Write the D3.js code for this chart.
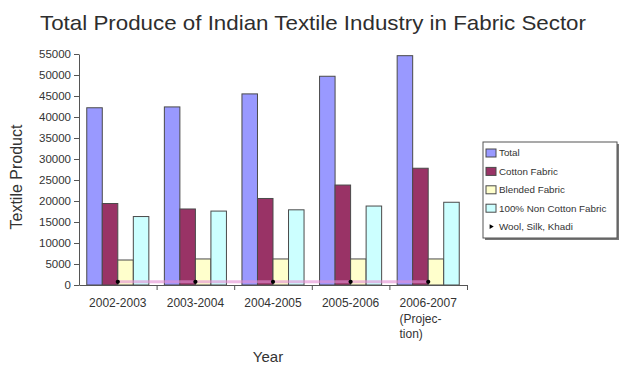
<!DOCTYPE html>
<html>
<head>
<meta charset="utf-8">
<script src="https://cdn.jsdelivr.net/npm/d3@7"></script>
<style>
  body { margin: 0; background: #fff; }
  text { font-family: Arial, "Liberation Sans", sans-serif; fill: #333; }
</style>
</head>
<body>
<script>
// data ===============================================================
var years = [
  ["2002-2003"],
  ["2003-2004"],
  ["2004-2005"],
  ["2005-2006"],
  ["2006-2007", "(Projec-", "tion)"]
];
var seriesNames = ["Total", "Cotton Fabric", "Blended Fabric", "100% Non Cotton Fabric"];
var total      = [42200, 42400, 45500, 49700, 54600];
var cotton     = [19400, 18100, 20600, 23800, 27800];
var blended    = [5950, 6200, 6200, 6200, 6200];
var nonCotton  = [16300, 17600, 17900, 18800, 19700];
var woolName   = "Wool, Silk, Khadi";
var wool       = [750, 750, 750, 750, 750];
var yTicks     = d3.range(0, 55001, 5000);
// ====================================================================

var width = 619, height = 365;
var margin = {left: 79, right: 152, top: 54, bottom: 80};

var color = d3.scaleOrdinal()
  .domain(seriesNames)
  .range(["#9999ff", "#993366", "#ffffcc", "#ccffff"]);

var rows = years.map((lines, i) => ({
  key: lines.join(" "),
  lines: lines,
  values: [total[i], cotton[i], blended[i], nonCotton[i]],
  wool: wool[i]
}));

var svg = d3.select("body").append("svg")
  .attr("width", width)
  .attr("height", height);

var x0 = d3.scaleBand()
  .domain(rows.map(d => d.key))
  .range([margin.left, width - margin.right])
  .paddingInner(0)
  .paddingOuter(0);

var x1 = d3.scaleBand()
  .domain(seriesNames)
  .range([0, x0.bandwidth()])
  .paddingInner(0)
  .paddingOuter(0.5);

var y = d3.scaleLinear()
  .domain([0, 55000])
  .range([height - margin.bottom, margin.top]);

// title
svg.append("text")
  .attr("x", 313)
  .attr("y", 30)
  .attr("text-anchor", "middle")
  .attr("font-size", "21px")
  .attr("textLength", 546)
  .attr("lengthAdjust", "spacingAndGlyphs")
  .style("fill", "#2e2e2e")
  .text("Total Produce of Indian Textile Industry in Fabric Sector");

// bars
var groups = svg.selectAll("g.grp")
    .data(rows)
  .enter().append("g")
    .attr("class", "grp")
    .attr("transform", d => "translate(" + x0(d.key) + ",0)");

groups.selectAll("rect")
    .data(d => d.values.map((v, i) => ({name: seriesNames[i], value: v})))
  .enter().append("rect")
    .attr("x", d => x1(d.name))
    .attr("y", d => y(d.value))
    .attr("width", x1.bandwidth())
    .attr("height", d => y(0) - y(d.value))
    .attr("fill", d => color(d.name))
    .attr("stroke", "#4a4a4a")
    .attr("stroke-width", 1);

// wool line + markers
var woolLine = d3.line()
  .x(d => x0(d.key) + x0.bandwidth() / 2)
  .y(d => y(d.wool));

svg.append("path")
  .datum(rows)
  .attr("d", woolLine)
  .attr("fill", "none")
  .attr("stroke", "#e48fd4")
  .attr("stroke-opacity", 0.6)
  .attr("stroke-width", 3);

svg.selectAll("path.mark")
    .data(rows)
  .enter().append("path")
    .attr("class", "mark")
    .attr("d", d3.symbol().type(d3.symbolCircle).size(14))
    .attr("transform", d => "translate(" + (x0(d.key) + x0.bandwidth() / 2) + "," + y(d.wool) + ")")
    .attr("fill", "#000");

// y axis
var yAxis = d3.axisLeft(y)
  .tickValues(yTicks)
  .tickSize(5)
  .tickSizeOuter(0)
  .tickPadding(3)
  .tickFormat(d3.format("d"));

var gy = svg.append("g")
  .attr("transform", "translate(" + margin.left + ",0)")
  .call(yAxis);
gy.select(".domain").attr("stroke", "#555");
gy.selectAll(".tick line").attr("stroke", "#555");
gy.selectAll(".tick text")
  .attr("font-size", "11.5px")
  .style("font-family", "Arial, 'Liberation Sans', sans-serif")
  .style("fill", "#333");

// x axis: ticks between categories
var xb = d3.scaleLinear()
  .domain([0, rows.length])
  .range([margin.left, width - margin.right]);

var gx = svg.append("g")
  .attr("transform", "translate(0," + y(0) + ")")
  .call(d3.axisBottom(xb).tickValues(d3.range(1, rows.length + 1)).tickSize(5).tickSizeOuter(0).tickFormat(""));
gx.select(".domain").attr("stroke", "#555");
gx.selectAll(".tick line").attr("stroke", "#555");

// category labels (extra lines left aligned to the first)
rows.forEach(d => {
  var cx = x0(d.key) + x0.bandwidth() / 2;
  var t = svg.append("text")
    .attr("font-size", "12px")
    .attr("y", y(0) + 22)
    .text(d.lines[0]);
  var w = t.node().getComputedTextLength();
  t.attr("x", cx - w / 2);
  d.lines.slice(1).forEach((line, j) => {
    svg.append("text")
      .attr("font-size", "12px")
      .attr("x", cx - w / 2)
      .attr("y", y(0) + 22 + 15.5 * (j + 1))
      .text(line);
  });
});

// axis titles
svg.append("text")
  .attr("transform", "translate(22,177) rotate(-90)")
  .attr("text-anchor", "middle")
  .attr("font-size", "16px")
  .text("Textile Product");

svg.append("text")
  .attr("x", 268)
  .attr("y", 362)
  .attr("text-anchor", "middle")
  .attr("font-size", "15px")
  .text("Year");

// legend
var legend = svg.append("g").attr("transform", "translate(483,142)");

legend.append("rect")
  .attr("x", 2).attr("y", 2)
  .attr("width", 134).attr("height", 96)
  .attr("fill", "#777");
legend.append("rect")
  .attr("width", 134).attr("height", 96)
  .attr("fill", "#fff")
  .attr("stroke", "#555")
  .attr("stroke-width", 1);

var items = seriesNames.concat([woolName]);
var li = legend.selectAll("g.item")
    .data(items)
  .enter().append("g")
    .attr("class", "item")
    .attr("transform", (d, i) => "translate(0," + (11 + i * 18.4) + ")");

li.filter((d, i) => i < seriesNames.length)
  .append("rect")
    .attr("x", 3).attr("y", -4)
    .attr("width", 10).attr("height", 8)
    .attr("fill", d => color(d))
    .attr("stroke", "#4a4a4a");

li.filter(d => d === woolName)
  .append("path")
    .attr("d", d3.symbol().type(d3.symbolTriangle).size(10))
    .attr("transform", "translate(8,0) rotate(90)")
    .attr("fill", "#000");

li.append("text")
  .attr("x", 16)
  .attr("dy", "0.35em")
  .attr("font-size", "9.8px")
  .text(d => d);
</script>
</body>
</html>
